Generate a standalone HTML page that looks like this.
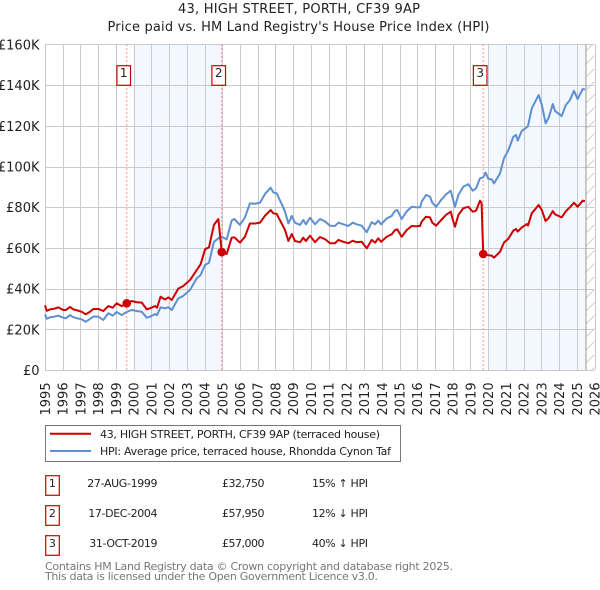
<!DOCTYPE html>
<html lang="en">
<head>
<meta charset="utf-8">
<title>43, HIGH STREET, PORTH, CF39 9AP</title>
<style>
html,body{margin:0;padding:0;background:#fff;width:600px;height:590px;overflow:hidden}
svg{display:block;font-family:"DejaVu Sans",sans-serif}
</style>
</head>
<body>
<svg id="chart" xmlns="http://www.w3.org/2000/svg" width="600" height="590" viewBox="0 0 600 590">
  <defs>
    <pattern id="hatch" patternUnits="userSpaceOnUse" width="13" height="13">
      <path d="M0 13L13 0M-3 3L3 -3M10 16L16 10" stroke="#cfcfcf" stroke-width="1" fill="none"/>
    </pattern>
  </defs>
  <text x="299" y="13" font-size="13" text-anchor="middle" textLength="242" fill="#222">43, HIGH STREET, PORTH, CF39 9AP</text>
  <text x="298.5" y="31" font-size="13" text-anchor="middle" textLength="382" fill="#222">Price paid vs. HM Land Registry's House Price Index (HPI)</text>
  <g id="plot"></g>

  <g>
    <rect x="45.5" y="425.5" width="355" height="36" fill="#fff" stroke="#777" stroke-width="1"/>
    <line x1="50" x2="91" y1="433.8" y2="433.8" stroke="#cc0000" stroke-width="2"/>
    <text x="100" y="438" font-size="11" textLength="280" fill="#222">43, HIGH STREET, PORTH, CF39 9AP (terraced house)</text>
    <line x1="50" x2="91" y1="451" y2="451" stroke="#5f8fd3" stroke-width="2"/>
    <text x="100" y="455" font-size="11" textLength="291" fill="#222">HPI: Average price, terraced house, Rhondda Cynon Taf</text>
  </g>

  <g font-size="11" fill="#222">
    <g>
      <rect x="45.7" y="475.7" width="13.6" height="19.6" fill="#fff" stroke="#cc0000" stroke-width="1.2"/>
      <text x="52.4" y="487" text-anchor="middle">1</text>
      <text x="87.3" y="487" textLength="70.2">27-AUG-1999</text>
      <text x="222" y="487" textLength="42.5">£32,750</text>
      <text x="312" y="487" textLength="56">15% ↑ HPI</text>
    </g>
    <g>
      <rect x="45.7" y="505.7" width="13.6" height="19.6" fill="#fff" stroke="#cc0000" stroke-width="1.2"/>
      <text x="52.4" y="517" text-anchor="middle">2</text>
      <text x="88.3" y="517" textLength="69.2">17-DEC-2004</text>
      <text x="222" y="517" textLength="42.5">£57,950</text>
      <text x="312" y="517" textLength="56">12% ↓ HPI</text>
    </g>
    <g>
      <rect x="45.7" y="535.7" width="13.6" height="19.6" fill="#fff" stroke="#cc0000" stroke-width="1.2"/>
      <text x="52.4" y="547" text-anchor="middle">3</text>
      <text x="89.3" y="547" textLength="68.2">31-OCT-2019</text>
      <text x="222" y="547" textLength="42.5">£57,000</text>
      <text x="312" y="547" textLength="56">40% ↓ HPI</text>
    </g>
  </g>

  <text x="45" y="570" font-size="11" textLength="408" fill="#777">Contains HM Land Registry data © Crown copyright and database right 2025.</text>
  <text x="45" y="580" font-size="11" textLength="333" fill="#777">This data is licensed under the Open Government Licence v3.0.</text>
</svg>

<script>
const yearTicks = [1995,1996,1997,1998,1999,2000,2001,2002,2003,2004,2005,2006,2007,2008,2009,2010,2011,2012,2013,2014,2015,2016,2017,2018,2019,2020,2021,2022,2023,2024,2025,2026];
const valueTicks = [0,20,40,60,80,100,120,140,160];
const valueTickLabels = ['£0','£20K','£40K','£60K','£80K','£100K','£120K','£140K','£160K'];

const dates = [1995.00,1995.10,1995.28,1995.51,1995.75,1996.03,1996.18,1996.41,1996.60,1996.82,
1997.07,1997.30,1997.54,1997.72,1998.01,1998.29,1998.57,1998.82,1999.04,1999.33,
1999.61,1999.89,2000.17,2000.46,2000.74,2000.92,2001.21,2001.32,2001.52,2001.77,
2001.96,2002.15,2002.52,2002.80,2003.18,2003.56,2003.78,2004.03,2004.25,2004.53,
2004.78,2004.97,2005.25,2005.53,2005.68,2006.00,2006.28,2006.56,2006.85,2007.13,
2007.41,2007.73,2007.88,2008.07,2008.35,2008.54,2008.73,2008.92,2009.10,2009.39,
2009.57,2009.72,2009.95,2010.23,2010.51,2010.80,2011.08,2011.36,2011.55,2011.83,
2012.11,2012.36,2012.58,2012.87,2013.15,2013.43,2013.62,2013.80,2013.96,2014.28,
2014.56,2014.75,2014.88,2015.12,2015.41,2015.69,2015.93,2016.16,2016.25,2016.49,
2016.72,2016.85,2017.06,2017.38,2017.62,2017.89,2018.00,2018.13,2018.32,2018.60,
2018.88,2019.13,2019.32,2019.54,2019.63,2019.72,2019.86,2020.01,2020.20,2020.33,
2020.67,2020.89,2021.14,2021.42,2021.57,2021.67,2021.89,2022.18,2022.25,2022.46,
2022.85,2023.03,2023.24,2023.40,2023.65,2023.77,2024.15,2024.38,2024.62,2024.84,
2025.05,2025.33,2025.46];

const pricePaid = [31.8,29.1,29.8,30.1,30.8,29.5,29.5,31.0,29.8,29.3,
28.6,27.4,28.6,30.0,30.0,29.0,31.4,30.6,32.8,31.4,
32.75,33.9,33.3,33.1,29.8,30.3,31.4,30.6,36.0,34.6,
35.7,34.4,40.0,41.3,44.2,49.1,52.0,59.3,60.3,71.3,
74.2,57.95,57.0,65.0,65.2,62.6,65.5,72.0,72.0,72.4,
75.8,78.6,77.0,76.7,72.0,68.8,63.4,66.8,63.4,62.8,
65.0,63.4,66.0,62.8,65.3,64.3,62.3,62.3,63.9,63.0,
62.3,63.5,62.8,63.0,59.8,63.9,62.6,64.7,63.0,65.5,
66.7,68.8,69.1,65.5,68.8,70.8,70.6,70.8,72.9,75.3,
75.0,72.4,70.9,74.0,76.2,77.8,74.0,70.4,76.2,79.5,
80.2,77.8,78.3,83.2,82.0,57.0,57.0,56.4,56.2,55.2,
58.1,62.6,64.5,68.5,69.3,68.0,70.0,71.7,71.0,77.0,
81.1,78.6,73.2,74.5,78.1,76.5,75.0,78.0,80.0,82.2,
80.2,83.2,83.0];

const hpiValues = [27.4,25.2,25.9,26.2,26.7,25.7,25.4,27.0,25.9,25.4,
24.9,23.7,25.1,26.2,26.2,24.6,27.9,26.7,28.5,27.0,
28.5,29.5,29.0,28.6,25.7,26.2,27.5,27.0,30.8,30.3,
30.8,29.5,35.2,36.4,39.3,45.0,46.7,51.6,52.7,63.0,
64.7,65.5,64.2,73.4,74.2,71.3,75.0,81.9,81.7,82.2,
86.5,89.6,87.3,86.8,81.6,77.8,72.0,75.7,72.4,71.3,
73.7,71.6,74.8,71.6,74.2,73.0,70.9,70.8,72.4,71.6,
70.8,72.4,71.6,70.9,67.7,72.6,71.6,73.4,71.6,74.5,
75.7,78.3,78.6,74.2,78.0,80.2,80.0,79.9,82.7,86.0,
85.2,82.2,80.2,83.9,86.3,88.1,84.4,80.2,86.0,90.1,
91.3,88.1,89.3,94.2,94.4,94.7,97.0,93.9,93.7,91.7,
96.6,104.0,108.0,114.6,115.5,112.7,117.4,119.3,119.9,128.6,
135.1,130.2,121.2,123.7,130.7,127.3,124.8,130.2,132.7,137.2,
133.2,138.0,137.9];

const saleNumbers = ['1','2','3'];
const saleYears = [1999.61,2004.97,2019.72];
const salePrices = [32.75,57.95,57.0];
const bandStartYears = [2000,2020];
const bandEndYears = [2005,2025.52];
const forecastStartYear = 2025.52;

const NS = 'http://www.w3.org/2000/svg';
const plot = document.getElementById('plot');
const xAxis = function (year) { return 45 + (year - 1995) * 17.726; };
const yAxis = function (value) { return 370 - value * 2.035; };

function make(tag, attrs, text) {
  const el = document.createElementNS(NS, tag);
  for (const k in attrs) el.setAttribute(k, attrs[k]);
  if (text !== undefined) el.textContent = text;
  plot.appendChild(el);
  return el;
}

const xLeft = xAxis(1995), xRight = xAxis(2026), yTop = yAxis(160), yBottom = yAxis(0);

bandStartYears.forEach(function (start, i) {
  const band = make('rect', {x: xAxis(start), y: yTop, width: xAxis(bandEndYears[i]) - xAxis(start), height: yBottom - yTop, fill: '#f3f7fe'});
  
  
});

const hatchArea = make('rect', {x: xAxis(forecastStartYear), y: yTop, width: xRight - xAxis(forecastStartYear), height: yBottom - yTop, fill: 'url(#hatch)'});



yearTicks.forEach(function (year) {
  const gx = Math.round(xAxis(year)) + 0.5;
  const grid = make('line', {x1: gx, x2: gx, y1: yTop, y2: yBottom, stroke: '#cacaca', 'stroke-width': 1});
  
  
  const label = make('text', {transform: 'translate(' + (xAxis(year) + 5) + ',415.5) rotate(-90)', 'font-size': 13, fill: '#222'}, String(year));
  
  
});

valueTicks.forEach(function (value, i) {
  const gy = Math.round(yAxis(value)) + 0.5;
  const grid = make('line', {x1: xLeft, x2: xRight, y1: gy, y2: gy, stroke: '#cacaca', 'stroke-width': 1});
  
  
  const label = make('text', {x: 39.5, y: yAxis(value) + 5, 'font-size': 13, 'text-anchor': 'end', fill: '#222'}, valueTickLabels[i]);
  
  
});

const forecastLine = make('line', {x1: xAxis(forecastStartYear), x2: xAxis(forecastStartYear), y1: yTop, y2: yBottom, stroke: '#999', 'stroke-width': 1});



saleYears.forEach(function (year) {
  const guide = make('line', {x1: xAxis(year), x2: xAxis(year), y1: yTop, y2: yBottom, stroke: '#ff6b6b', 'stroke-width': 1, 'stroke-dasharray': '1.5 2.5'});
  
  
});

function pointsOf(values) {
  return values.map(function (v, i) { return xAxis(dates[i]).toFixed(2) + ',' + yAxis(v).toFixed(2); }).join(' ');
}

const hpiLine = make('polyline', {points: pointsOf(hpiValues), fill: 'none', stroke: '#5f8fd3', 'stroke-width': 2, 'stroke-linejoin': 'round'});



const priceLine = make('polyline', {points: pointsOf(pricePaid), fill: 'none', stroke: '#cc0000', 'stroke-width': 2, 'stroke-linejoin': 'round'});



saleYears.forEach(function (year, i) {
  const dot = make('circle', {cx: xAxis(year), cy: yAxis(salePrices[i]), r: 4.3, fill: '#cc0000'});
  
  
  const badge = make('rect', {x: xAxis(year) - 9.8, y: 65.7, width: 13.6, height: 19.6, fill: '#fff', stroke: '#cc0000', 'stroke-width': 1.2});
  
  
  const num = make('text', {x: xAxis(year) - 3, y: 77, 'font-size': 12, 'text-anchor': 'middle', fill: '#222'}, saleNumbers[i]);
  
  
});
</script>
</body>
</html>
